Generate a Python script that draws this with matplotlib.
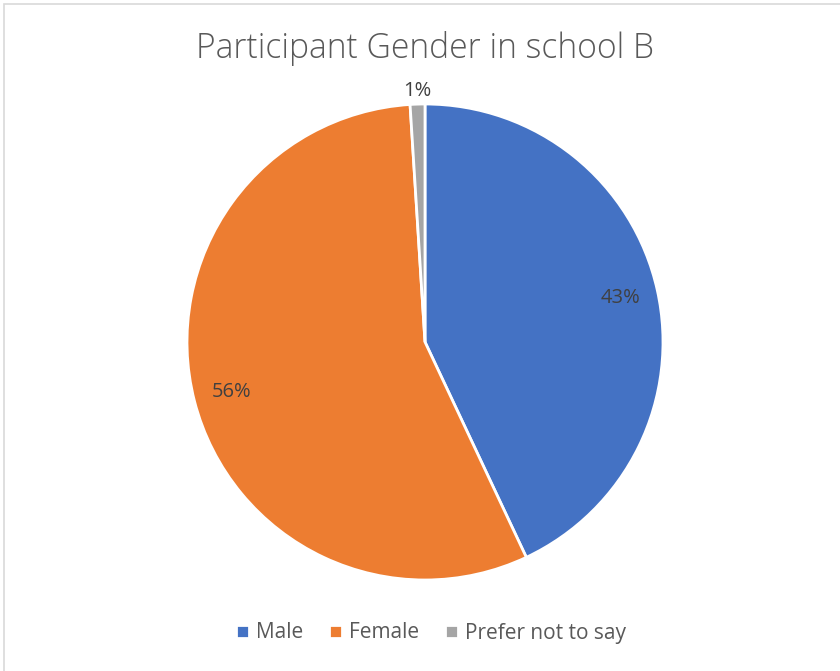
import matplotlib

matplotlib.use("Agg")
import matplotlib.pyplot as plt
import numpy as np
from matplotlib.patches import Rectangle

plt.rcParams["font.family"] = ["Open Sans", "DejaVu Sans"]

LABELS = ["Male", "Female", "Prefer not to say"]
VALUES = [43, 56, 1]
COLORS = ["#4472C4", "#ED7D31", "#A5A5A5"]
TITLE = "Participant Gender in school B"
TEXT_COLOR = "#595959"

fig = plt.figure(figsize=(8.4, 6.71), dpi=100)

# chart frame (right / bottom edges fall outside the picture)
fig.patches.append(Rectangle((4 / 840, -0.02), 1.05, 1 - 4 / 671 + 0.02,
                             transform=fig.transFigure, fill=False,
                             edgecolor="#d9d9d9", linewidth=1.2))

r_px = 238
ax = fig.add_axes([(425 - r_px) / 840, (671 - 342 - r_px) / 671,
                   2 * r_px / 840, 2 * r_px / 671])
wedges, texts, autotexts = ax.pie(
    VALUES, colors=COLORS, startangle=90, counterclock=False,
    autopct=lambda p: f"{p:.0f}%", pctdistance=0.84,
    wedgeprops=dict(edgecolor="white", linewidth=2),
    textprops=dict(color="#404040", fontsize=14.5),
)
# the tiny slice gets its label outside
w = wedges[2]
ang = np.deg2rad((w.theta1 + w.theta2) / 2)
autotexts[2].set_position((1.055 * np.cos(ang), 1.055 * np.sin(ang)))
ax.set_aspect("auto")
ax.set_xlim(-1, 1)
ax.set_ylim(-1, 1)

fig.text(425 / 840, 1 - 49 / 671, TITLE, ha="center", va="center",
         fontsize=24.2, color=TEXT_COLOR, fontweight="light")

fig.legend(wedges, LABELS, loc="center", bbox_to_anchor=(431 / 840, 1 - 633 / 671),
           ncol=3, frameon=False, fontsize=15, handlelength=0.6, handleheight=0.6,
           handletextpad=0.35, columnspacing=1.25, labelcolor=TEXT_COLOR)

fig.savefig("out.png", dpi=100, facecolor="white")
